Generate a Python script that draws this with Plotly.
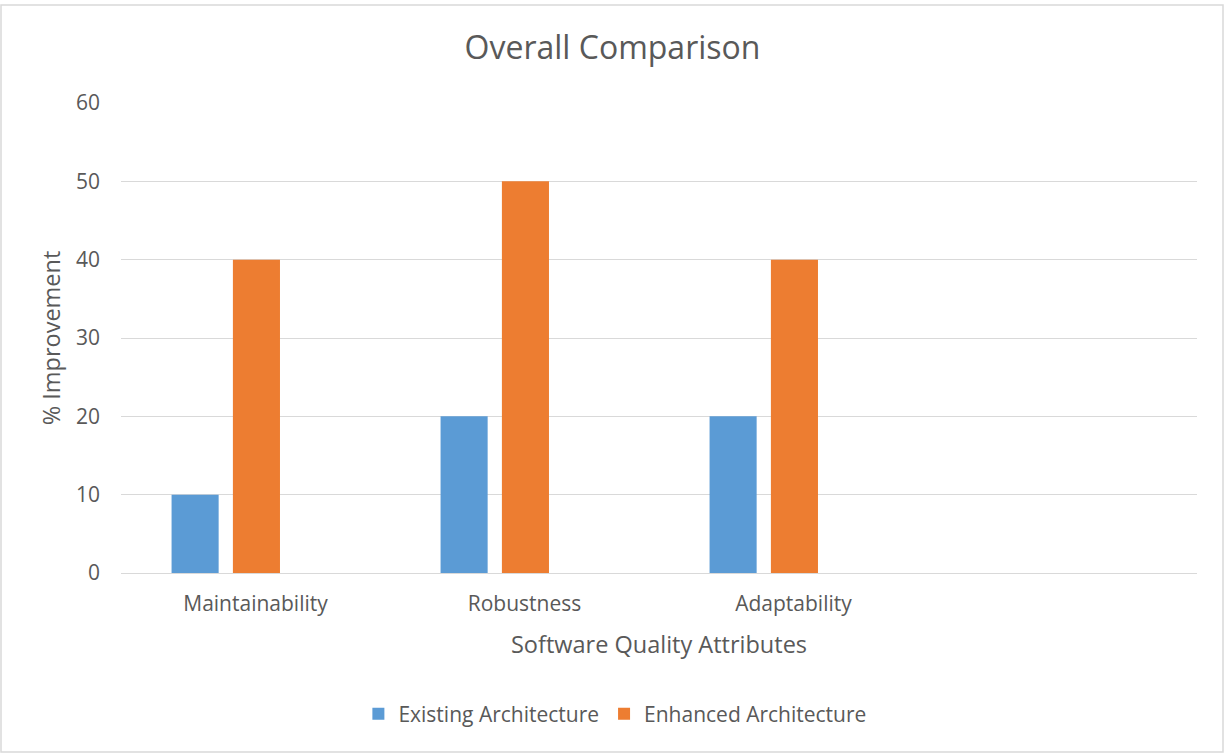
import plotly.graph_objects as go

categories = ["Maintainability", "Robustness", "Adaptability", " "]
existing = [10, 20, 20, None]
enhanced = [40, 50, 40, None]
series_names = ["Existing Architecture", "Enhanced Architecture"]
y_ticks = [0, 10, 20, 30, 40, 50, 60]

W, H = 1225, 754
L, R, T, B = 121, 28, 103, 181
pw, ph = W - L - R, H - T - B

TXT = "#595959"
FONT = "Open Sans"

fig = go.Figure()
fig.add_trace(go.Bar(x=categories, y=existing, name=series_names[0],
                     marker=dict(color="#5B9BD5", line=dict(width=0)),
                     width=0.175, offset=-0.312))
fig.add_trace(go.Bar(x=categories, y=enhanced, name=series_names[1],
                     marker=dict(color="#ED7D31", line=dict(width=0)),
                     width=0.175, offset=-0.084))

fig.update_layout(
    width=W, height=H,
    margin=dict(l=L, r=R, t=T, b=B, autoexpand=False),
    paper_bgcolor="white", plot_bgcolor="white",
    font=dict(family=FONT, color=TXT),
    barmode="overlay",
    title=dict(text="Overall Comparison", x=0.5, xanchor="center",
               y=1 - 48 / H, yanchor="middle",
               font=dict(size=32, color=TXT, family=FONT)),
    xaxis=dict(type="category", categoryorder="array", categoryarray=categories,
               range=[-0.5, 3.5], showgrid=False, showline=True,
               linecolor="#d9d9d9", linewidth=1, ticks="",
               tickfont=dict(size=21, color=TXT), ticklabelstandoff=12,
               title=dict(text="Software Quality Attributes",
                          font=dict(size=23.5, color=TXT), standoff=20),
               fixedrange=True),
    yaxis=dict(range=[0, 60], tickvals=y_ticks, showgrid=True,
               gridcolor="#d9d9d9", gridwidth=1, zeroline=False,
               showline=False, ticks="",
               tickfont=dict(size=21, color=TXT), ticklabelstandoff=20,
               title=dict(text="% Improvement", font=dict(size=23.5, color=TXT),
                          standoff=8),
               fixedrange=True),
    legend=dict(orientation="h", x=0.459, xanchor="center",
                y=-(714 - 573) / ph, yanchor="middle",
                font=dict(size=21, color=TXT), itemwidth=30,
                traceorder="normal", bgcolor="rgba(0,0,0,0)"),
    showlegend=True,
    shapes=[dict(type="rect", xref="paper", yref="paper",
                 x0=-(L - 1) / pw, x1=1 + (R - 2) / pw,
                 y0=-(B - 2) / ph, y1=1 + (T - 5) / ph,
                 line=dict(color="#d9d9d9", width=1.5),
                 fillcolor="rgba(0,0,0,0)", layer="below")],
)

fig.write_html("out.html")
